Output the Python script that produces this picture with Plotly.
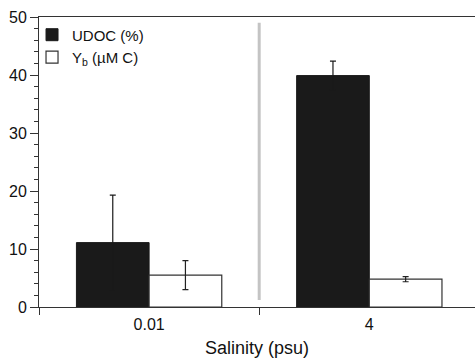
import plotly.graph_objects as go

categories = ["0.01", "4"]
udoc = [11.1, 39.9]
udoc_err = [8.2, 2.5]
yb = [5.5, 4.8]
yb_err = [2.5, 0.45]
y_ticks = [0, 10, 20, 30, 40, 50]

FONT = "Liberation Sans, Arial, Helvetica, sans-serif"
AX = "#333333"

fig = go.Figure()
fig.add_trace(go.Bar(
    x=categories, y=udoc, name="UDOC (%)",
    marker=dict(color="#1a1a1a", line=dict(color="#1a1a1a", width=1)),
    error_y=dict(type="data", array=udoc_err, color="#1a1a1a", thickness=1.2, width=3),
))
fig.add_trace(go.Bar(
    x=categories, y=yb, name="Y<sub>b</sub> (µM C)",
    marker=dict(color="white", line=dict(color="#333333", width=1.2)),
    error_y=dict(type="data", array=yb_err, color="#222222", thickness=1.2, width=3),
))

# gray separator between salinity groups
fig.add_shape(type="line", xref="x", yref="y", x0=0.5, x1=0.5, y0=1.2, y1=49,
              line=dict(color="#c4c4c4", width=3))

fig.update_layout(
    width=475, height=362,
    margin=dict(l=39, r=0, t=17, b=55),
    paper_bgcolor="white", plot_bgcolor="white",
    barmode="group", bargap=0.34, bargroupgap=0,
    font=dict(family=FONT, size=15, color="#111111"),
    legend=dict(x=-0.016, y=0.995, xanchor="left", yanchor="top",
                bgcolor="rgba(0,0,0,0)", font=dict(size=15),
                tracegroupgap=0, itemwidth=30),
)
fig.update_xaxes(
    type="category", range=[-0.5, 1.48],
    showline=True, linecolor=AX, linewidth=1, mirror=True,
    ticks="outside", tickson="boundaries", ticklen=7, tickcolor=AX,
    showgrid=False, zeroline=False,
    tickfont=dict(size=16), ticklabelstandoff=3,
    title=dict(text="Salinity (psu)", font=dict(size=18), standoff=9),
)
fig.update_yaxes(
    range=[0, 50], tickvals=y_ticks,
    showline=True, linecolor=AX, linewidth=1,
    ticks="outside", ticklen=8, tickcolor=AX,
    minor=dict(dtick=2, ticks="outside", ticklen=4, tickcolor=AX),
    showgrid=False, zeroline=False,
    tickfont=dict(size=16),
)

fig.write_html("out.html")
